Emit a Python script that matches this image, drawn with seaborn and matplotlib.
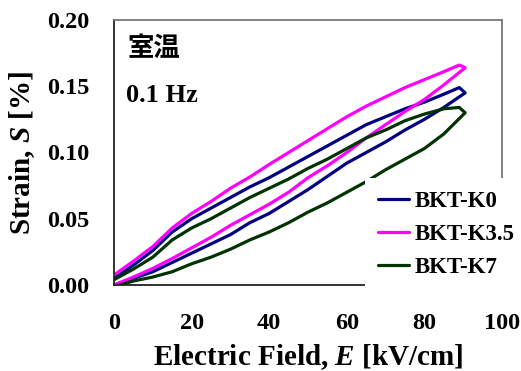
import numpy as np
import pandas as pd
import seaborn as sns
import matplotlib.pyplot as plt

# Readings from the S-E loops (rising branch = field up, falling branch = field down)
samples = ['BKT-K0', 'BKT-K3.5', 'BKT-K7']
colors = ['#000080', '#FF00FF', '#003300']

e_rise = [0, 5, 10, 15, 20, 25, 30, 35, 40, 45, 50, 55, 60, 65, 70, 75, 80, 85, 90.5]
e_rise_k7 = [1.5, 5, 10, 15, 20, 25, 30, 35, 40, 45, 50, 55, 60, 65, 70, 75, 80, 85, 90.5]
e_fall = [90.5, 89, 85, 80, 75, 70, 65, 60, 55, 50, 45, 40, 35, 30, 25, 20, 15, 10, 5, 0]

s_rise_k0 = [0.000, 0.005, 0.010, 0.017, 0.024, 0.031, 0.038, 0.047, 0.054, 0.063,
             0.072, 0.082, 0.092, 0.100, 0.108, 0.117, 0.125, 0.134, 0.145]
s_fall_k0 = [0.145, 0.149, 0.144, 0.138, 0.133, 0.127, 0.121, 0.113, 0.105, 0.097,
             0.089, 0.081, 0.074, 0.066, 0.058, 0.050, 0.040, 0.026, 0.015, 0.005]

s_rise_k35 = [0.000, 0.006, 0.0125, 0.020, 0.028, 0.036, 0.045, 0.053, 0.061, 0.070,
              0.081, 0.090, 0.100, 0.111, 0.121, 0.131, 0.140, 0.151, 0.164]
s_fall_k35 = [0.164, 0.166, 0.161, 0.155, 0.149, 0.142, 0.135, 0.127, 0.118, 0.109,
              0.100, 0.091, 0.0815, 0.073, 0.063, 0.054, 0.043, 0.029, 0.018, 0.0075]

s_rise_k7 = [0.000, 0.003, 0.006, 0.010, 0.016, 0.021, 0.027, 0.034, 0.040, 0.047,
             0.055, 0.062, 0.070, 0.078, 0.087, 0.095, 0.103, 0.114, 0.130]
s_fall_k7 = [0.130, 0.134, 0.133, 0.129, 0.124, 0.117, 0.111, 0.103, 0.095, 0.088,
             0.080, 0.073, 0.066, 0.058, 0.050, 0.043, 0.034, 0.021, 0.012, 0.004]

loops = {
    'BKT-K0': (e_rise + e_fall, s_rise_k0 + s_fall_k0),
    'BKT-K3.5': (e_rise + e_fall, s_rise_k35 + s_fall_k35),
    'BKT-K7': (e_rise_k7 + e_fall, s_rise_k7 + s_fall_k7),
}

rows = []
for name in samples:
    ee, ss = loops[name]
    for e, s in zip(ee, ss):
        rows.append({'sample': name, 'E': e, 'S': s})
df = pd.DataFrame(rows)

sns.set_theme(style='white')
plt.rcParams['font.family'] = ['Liberation Serif', 'DejaVu Serif']
plt.rcParams['font.weight'] = 'bold'
plt.rcParams['text.color'] = 'black'
plt.rcParams['axes.labelcolor'] = 'black'
plt.rcParams['mathtext.fontset'] = 'custom'
plt.rcParams['mathtext.it'] = 'Liberation Serif:italic:bold'
plt.rcParams['mathtext.rm'] = 'Liberation Serif:bold'

fig = plt.figure(figsize=(5.21, 3.71), dpi=100)
ax = fig.add_axes([114 / 521, 1 - 285 / 371, (502 - 114) / 521, (285 - 20) / 371])

sns.lineplot(data=df, x='E', y='S', hue='sample', hue_order=samples,
             palette=dict(zip(samples, colors)), sort=False, estimator=None,
             linewidth=2.3, ax=ax)

ax.set_xlim(0, 100)
ax.set_ylim(0, 0.20)
ax.set_xticks([0, 20, 40, 60, 80, 100])
ax.set_yticks([0.00, 0.05, 0.10, 0.15, 0.20])
ax.set_yticklabels(['0.00', '0.05', '0.10', '0.15', '0.20'])
ax.tick_params(axis='both', direction='in', length=7, width=1.2, colors='#222222',
               labelsize=17.5, labelcolor='black')
ax.tick_params(axis='x', pad=20)
ax.tick_params(axis='y', pad=18)
for lab in ax.get_xticklabels() + ax.get_yticklabels():
    lab.set_fontweight('bold')

for side in ['left', 'bottom']:
    ax.spines[side].set_color('#222222')
    ax.spines[side].set_linewidth(1.3)
for side in ['top', 'right']:
    ax.spines[side].set_color('#777777')
    ax.spines[side].set_linewidth(1.3)

ax.set_xlabel(r'Electric Field, $E$ [kV/cm]', fontsize=21, fontweight='bold', labelpad=6)
ax.set_ylabel(r'Strain, $S$ [%]', fontsize=21, fontweight='bold', labelpad=7)

ax.text(0.034, 0.945, '室温', transform=ax.transAxes, fontsize=19, fontweight='bold',
        family=['Noto Sans CJK JP', 'DejaVu Sans'], va='top', ha='left')
ax.text(0.03, 0.76, '0.1 Hz', transform=ax.transAxes, fontsize=19, fontweight='bold',
        va='top', ha='left')

handles, labels = ax.get_legend_handles_labels()
leg = ax.legend(handles, labels, loc='upper left',
                bbox_to_anchor=(365 / 521, 1 - 178 / 371), bbox_transform=fig.transFigure,
                frameon=True, facecolor='white', edgecolor='none', framealpha=1,
                fancybox=False, borderaxespad=0, borderpad=0.55, fontsize=16.5,
                handlelength=1.35, handletextpad=0.25, labelspacing=0.52)
leg.set_zorder(10)
for t in leg.get_texts():
    t.set_fontweight('bold')

fig.savefig('out.png', dpi=100)
